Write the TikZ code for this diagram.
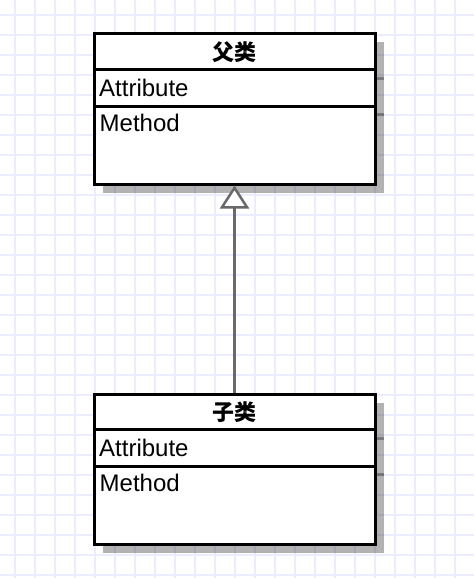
\documentclass[tikz,border=0pt]{standalone}
\usepackage{fontspec}
\setmainfont{Liberation Sans}
\newfontfamily\cjk{Noto Sans CJK SC}
\usetikzlibrary{arrows.meta}
\definecolor{gridc}{RGB}{236,236,255}
\definecolor{connc}{RGB}{105,105,105}
\tikzset{
  classbox/.style={draw=black, line width=3pt, fill=white, minimum width=281pt, minimum height=150pt, inner sep=0pt},
  shadowbox/.style={fill=black, opacity=0.3},
  sepline/.style={line width=3pt, black},
  shsep/.style={line width=3pt, black, opacity=0.3},
  title/.style={font=\cjk\bfseries\fontsize{22}{24}\selectfont, inner sep=0pt},
  member/.style={font=\fontsize{24}{28}\selectfont, inner sep=0pt, anchor=base west},
  conn/.style={draw=connc, line width=2.5pt, -{Triangle[open, fill=white, width=29pt, length=23pt]}}
}
\begin{document}
\begin{tikzpicture}[x=1pt, y=-1pt]
\useasboundingbox (0,0) rectangle (474,578);
% grid
\foreach \i in {0,...,22} { \draw[gridc, line width=1.3pt] (15+20*\i,0) -- (15+20*\i,578); }
\foreach \j in {0,...,28} { \draw[gridc, line width=1.3pt] (0,15+20*\j) -- (474,15+20*\j); }
% shadows
\foreach \dy in {0,360} {
  \fill[shadowbox] (102.5,42.5+\dy) rectangle (383.5,192.5+\dy);
  \draw[shsep] (375,78+\dy) -- (383.5,78+\dy);
  \draw[shsep] (375,114.5+\dy) -- (383.5,114.5+\dy);
}
% parent class
\node[classbox] (p) at (234.5,109) {};
\draw[sepline] (p.west |- 0,69.5) -- (p.east |- 0,69.5);
\draw[sepline] (p.west |- 0,106) -- (p.east |- 0,106);
\node[title] (pt) at (234.5,52) {父类};
\node[member] (pa) at (99,96) {Attribute};
\node[member] (pm) at (99.5,131.5) {Method};
% child class
\node[classbox] (c) at (234.5,469) {};
\draw[sepline] (c.west |- 0,429.5) -- (c.east |- 0,429.5);
\draw[sepline] (c.west |- 0,466) -- (c.east |- 0,466);
\node[title] (ct) at (234.5,412) {子类};
\node[member] (ca) at (99,456) {Attribute};
\node[member] (cm) at (99.5,491.5) {Method};
% generalization
\draw[conn] (c.north) -- (p.south);
\end{tikzpicture}
\end{document}
